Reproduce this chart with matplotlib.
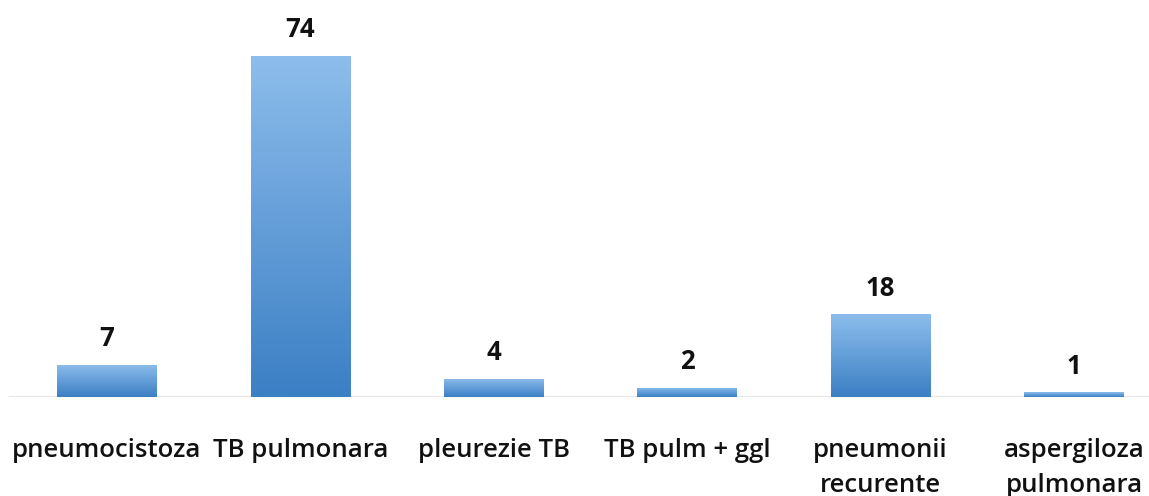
import numpy as np
import matplotlib
matplotlib.use("Agg")
import matplotlib.pyplot as plt
from matplotlib.colors import LinearSegmentedColormap

categories = ["pneumocistoza", "TB pulmonara", "pleurezie TB",
              "TB pulm + ggl", "pneumonii\nrecurente", "aspergiloza\npulmonara"]
counts = [7, 74, 4, 2, 18, 1]

W, H = 1149, 496
DPI = 100
plt.rcParams["font.family"] = ["Open Sans", "DejaVu Sans"]

grad = LinearSegmentedColormap.from_list("bar", ["#3B7FC4", "#8DBDEC"])

fig = plt.figure(figsize=(W / DPI, H / DPI), dpi=DPI)
# axes spans full width; baseline sits at y=397px
ax = fig.add_axes([0, (H - 397) / H, 1, 397 / H])
px_per_cat = 193.4
ax.set_xlim(-107 / px_per_cat, (W - 107) / px_per_cat)
ax.set_ylim(0, 397 / 4.61)

x = np.arange(len(categories))
bars = ax.bar(x, counts, width=0.515, color="none", edgecolor="none", zorder=2)
gradient = np.linspace(0, 1, 256).reshape(-1, 1)
for b in bars:
    x0, w, h = b.get_x(), b.get_width(), b.get_height()
    im = ax.imshow(gradient, cmap=grad, origin="lower", aspect="auto",
                   extent=[x0, x0 + w, 0, h], zorder=2)
    im.set_clip_path(b)
    ax.text(x0 + w / 2, h + 4.0, str(int(h)), ha="center", va="baseline",
            fontsize=18.5, fontweight="bold", color="#111111")

ax.axhline(0, xmin=10 / W, xmax=1, color="#E6E6E6", lw=1.5, zorder=1)

for xi, lab in zip(x, categories):
    ax.text(xi, -8.9, lab, ha="center", va="top", fontsize=18.5,
            fontweight="semibold", color="#111111", linespacing=1.54)

ax.set_xticks([])
ax.set_yticks([])
for s in ax.spines.values():
    s.set_visible(False)

fig.savefig("out.png", dpi=DPI)
